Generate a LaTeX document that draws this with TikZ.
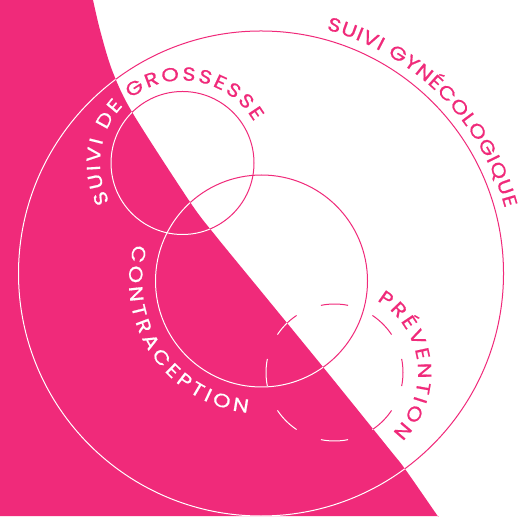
\documentclass[tikz,border=0pt]{standalone}
\usepackage{fontspec}
\setmainfont{Poppins}[FakeBold=0.7,FakeStretch=1.18]
\usetikzlibrary{decorations.text}
\definecolor{rose}{HTML}{F02A7A}
\newcommand{\splitcurve}{-- plot[smooth,tension=0.5] coordinates {(93,516) (100,486) (112,446) (132,404) (190,314) (215,281) (260,226) (323,149) (390,66) (405,47) (437,1) (438,0)}}
\newcommand{\labelfont}{\fontsize{19}{19}\selectfont}
\tikzset{
  ring/.style={line width=1pt,draw},
}
\newcommand{\arclabel}[6]{% colour, centre, radius, from, to, text
  \path[decorate,decoration={text along path,text align={fit to path},text color=#1,text={|\labelfont|#6}}]
    #2 ++(#4:#3) arc[start angle=#4,end angle=#5,radius=#3];
}
\newcommand{\allmarks}[1]{%
  \draw[ring,#1] (261,242.5) circle[radius=242.5];
  \draw[ring,#1] (182.5,353) circle[radius=71.5];
  \draw[ring,#1] (261.5,235) circle[radius=106];
  \foreach \a in {0,45,...,315}{
    \draw[ring,#1] (334.5,143.5) ++(\a-11.4:68.5) arc[start angle=\a-11.4,end angle=\a+11.4,radius=68.5];
  }
  \arclabel{#1}{(261,242.5)}{252.5}{75}{15}{SUIVI GYNÉCOLOGIQUE}
  \arclabel{#1}{(182.5,353)}{82.5}{208}{30}{SUIVI DE GROSSESSE}
  \arclabel{#1}{(261.5,235)}{132.5}{164}{264}{CONTRACEPTION}
  \arclabel{#1}{(334.5,143.5)}{83.5}{59.5}{-46}{PRÉVENTION}
}
\begin{document}
\begin{tikzpicture}[x=1pt,y=1pt]
  \useasboundingbox (0,0) rectangle (518,516);
  \fill[white] (0,0) rectangle (518,516);
  \fill[rose] (0,516) \splitcurve -- (0,0) -- cycle;
  \begin{scope}
    \clip (0,516) \splitcurve -- (0,0) -- cycle;
    \allmarks{white}
  \end{scope}
  \begin{scope}
    \clip (518,516) \splitcurve -- (518,0) -- cycle;
    \allmarks{rose}
  \end{scope}
\end{tikzpicture}
\end{document}
